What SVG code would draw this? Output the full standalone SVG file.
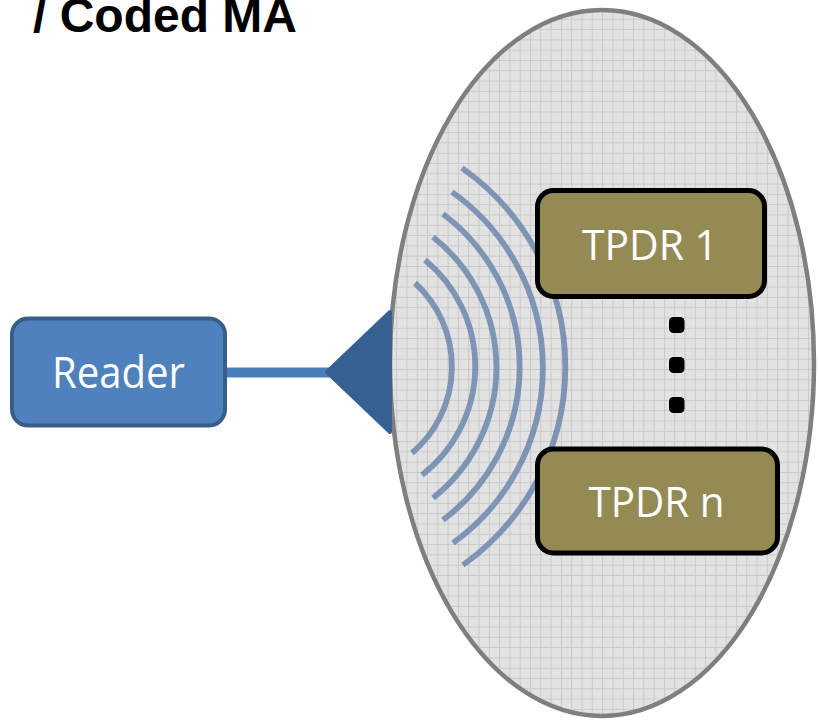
<svg xmlns="http://www.w3.org/2000/svg" width="819" height="722" viewBox="0 0 819 722">
  <defs>
    <pattern id="grid" patternUnits="userSpaceOnUse" x="427" y="163" width="10.3" height="10.3">
      <rect width="10.3" height="10.3" fill="#e2e2e2"/>
      <path d="M0.5 0V10.3M0 0.5H10.3" stroke="#c9c9c9" stroke-width="1" fill="none"/>
    </pattern>
    <style>
      .wave { fill: none; stroke: #6d87ad; stroke-width: 5.8; opacity: 0.85; }
      .tpdr { fill: #948a54; stroke: #000000; stroke-width: 5; }
      .tpdr-text { font-family: "Open Sans", "Noto Sans", sans-serif; font-size: 42px; fill: #ffffff; text-anchor: middle; }
      .dot { fill: #000000; }
    </style>
  </defs>
  <rect width="819" height="722" fill="#ffffff"/>

  <text x="33" y="32" font-family="Liberation Sans, Arial, sans-serif" font-weight="bold" font-size="48" fill="#000000">/ Coded MA</text>

  <g id="field">
    <ellipse cx="602" cy="363" rx="212" ry="353" fill="url(#grid)" stroke="#7f7f7f" stroke-width="4.5"/>
  </g>

  <g id="waves">
    <path class="wave" d="M415 283 A113.3 113.3 0 0 1 412 453"/>
    <path class="wave" d="M425 260 A137.6 137.6 0 0 1 422 475"/>
    <path class="wave" d="M433 237 A166 166 0 0 1 433 498"/>
    <path class="wave" d="M443 214 A191 191 0 0 1 443 520"/>
    <path class="wave" d="M452 192 A215.6 215.6 0 0 1 453 543"/>
    <path class="wave" d="M462 168 A243 243 0 0 1 463 565"/>
  </g>

  <g id="connectors">
    <line x1="224" y1="372.5" x2="330" y2="372.5" stroke="#4a7ebb" stroke-width="10"/>
  </g>

  <g id="antenna">
    <polygon points="327,372 390,312 390,432" fill="#376092" stroke="#376092" stroke-width="4" stroke-linejoin="round"/>
  </g>

  <g id="reader">
    <rect x="12" y="318.5" width="213" height="107" rx="16" fill="#4f81bd" stroke="#385d8a" stroke-width="4"/>
    <text x="118.5" y="388" font-family="Open Sans, Noto Sans, sans-serif" font-size="43" fill="#ffffff" text-anchor="middle" textLength="133" lengthAdjust="spacingAndGlyphs">Reader</text>
  </g>

  <g id="tpdr1">
    <rect class="tpdr" x="537.5" y="190.5" width="227" height="106" rx="16"/>
    <text class="tpdr-text" x="650" y="260" textLength="136" lengthAdjust="spacingAndGlyphs">TPDR 1</text>
  </g>

  <g id="dots">
    <rect class="dot" x="669" y="317" width="15.5" height="16" rx="4.5"/>
    <rect class="dot" x="669" y="357" width="15.5" height="16" rx="4.5"/>
    <rect class="dot" x="669" y="397" width="15.5" height="16" rx="4.5"/>
  </g>

  <g id="tpdrn">
    <rect class="tpdr" x="537.5" y="449" width="240" height="104" rx="16"/>
    <text class="tpdr-text" x="656.5" y="517" textLength="136" lengthAdjust="spacingAndGlyphs">TPDR n</text>
  </g>
</svg>
